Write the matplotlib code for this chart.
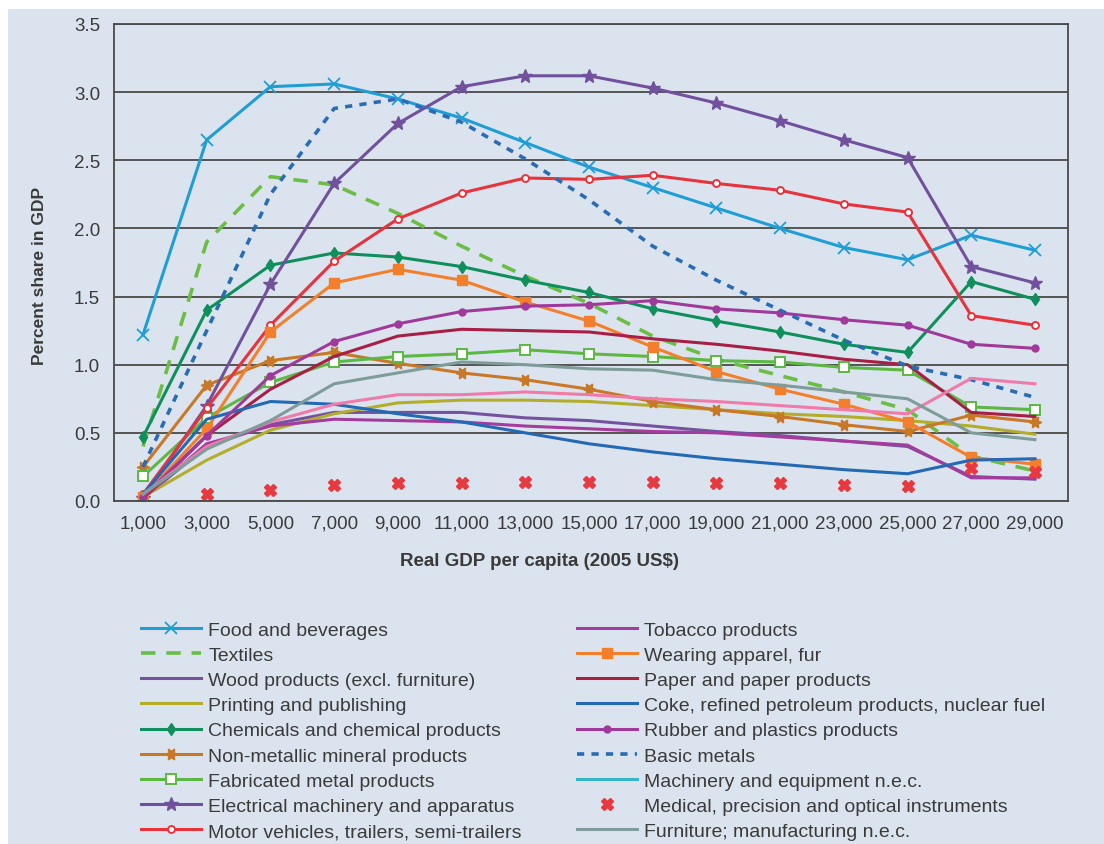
import numpy as np
import matplotlib
matplotlib.use('Agg')
import matplotlib.pyplot as plt
from matplotlib.lines import Line2D
from matplotlib.patches import Rectangle

# x categories: real GDP per capita (2005 US$)
gdp = [1000, 3000, 5000, 7000, 9000, 11000, 13000, 15000,
       17000, 19000, 21000, 23000, 25000, 27000, 29000]
gdp_labels = ['1,000', '3,000', '5,000', '7,000', '9,000', '11,000', '13,000',
              '15,000', '17,000', '19,000', '21,000', '23,000', '25,000',
              '27,000', '29,000']

# percent share in GDP
food = [1.22, 2.65, 3.04, 3.06, 2.95, 2.81, 2.63, 2.45, 2.30, 2.15, 2.00, 1.86, 1.77, 1.95, 1.84]
textiles = [0.40, 1.90, 2.38, 2.32, 2.11, 1.87, 1.65, 1.45, 1.21, 1.04, 0.92, 0.80, 0.67, 0.33, 0.22]
wood = [0.02, 0.40, 0.56, 0.65, 0.65, 0.65, 0.61, 0.59, 0.55, 0.51, 0.48, 0.44, 0.40, 0.18, 0.16]
printing = [0.03, 0.30, 0.52, 0.64, 0.72, 0.74, 0.74, 0.73, 0.70, 0.67, 0.64, 0.62, 0.59, 0.55, 0.49]
chemicals = [0.47, 1.40, 1.73, 1.82, 1.79, 1.72, 1.62, 1.53, 1.41, 1.32, 1.24, 1.15, 1.09, 1.61, 1.48]
nonmetal = [0.25, 0.85, 1.03, 1.09, 1.01, 0.94, 0.89, 0.82, 0.73, 0.67, 0.62, 0.56, 0.51, 0.63, 0.58]
fabricated = [0.18, 0.61, 0.87, 1.02, 1.06, 1.08, 1.11, 1.08, 1.06, 1.03, 1.02, 0.98, 0.96, 0.69, 0.67]
electrical = [0.02, 0.70, 1.59, 2.33, 2.77, 3.04, 3.12, 3.12, 3.03, 2.92, 2.79, 2.65, 2.52, 1.72, 1.60]
motor = [0.05, 0.68, 1.29, 1.76, 2.07, 2.26, 2.37, 2.36, 2.39, 2.33, 2.28, 2.18, 2.12, 1.36, 1.29]
tobacco = [0.02, 0.42, 0.55, 0.60, 0.59, 0.58, 0.55, 0.53, 0.51, 0.50, 0.47, 0.44, 0.41, 0.17, 0.17]
apparel = [0.03, 0.53, 1.24, 1.60, 1.70, 1.62, 1.46, 1.32, 1.13, 0.95, 0.82, 0.71, 0.58, 0.32, 0.27]
paper = [0.02, 0.48, 0.82, 1.06, 1.21, 1.26, 1.25, 1.24, 1.19, 1.15, 1.10, 1.04, 1.00, 0.65, 0.62]
coke = [0.05, 0.60, 0.73, 0.71, 0.64, 0.58, 0.50, 0.42, 0.36, 0.31, 0.27, 0.23, 0.20, 0.30, 0.31]
rubber = [0.03, 0.48, 0.92, 1.17, 1.30, 1.39, 1.43, 1.44, 1.47, 1.41, 1.38, 1.33, 1.29, 1.15, 1.12]
basic = [0.25, 1.25, 2.25, 2.88, 2.95, 2.78, 2.51, 2.21, 1.87, 1.62, 1.40, 1.18, 0.99, 0.89, 0.76]
machinery = [0.05, 0.40, 0.58, 0.71, 0.78, 0.78, 0.80, 0.78, 0.75, 0.73, 0.70, 0.67, 0.64, 0.90, 0.86]
medical = [np.nan, 0.05, 0.08, 0.12, 0.13, 0.13, 0.14, 0.14, 0.14, 0.13, 0.13, 0.12, 0.11, 0.24, 0.21]
furniture = [0.05, 0.38, 0.59, 0.86, 0.94, 1.02, 1.00, 0.97, 0.96, 0.89, 0.85, 0.80, 0.75, 0.50, 0.45]

BG = '#dbe4ee'
TXT = '#3a3a3a'
plt.rcParams['font.family'] = ['Liberation Sans', 'DejaVu Sans']

fig = plt.figure(figsize=(11.04, 8.45), dpi=100, facecolor='white')
fig.patches.append(Rectangle((8/1104, 0), 1, (845-10)/845, transform=fig.transFigure,
                             facecolor=BG, edgecolor='none', zorder=-10))
ax = fig.add_axes([114/1104, (845-502)/845, 954/1104, 477/845])
ax.set_facecolor(BG)

lw = 2.2
h = {}
h['food'], = ax.plot(gdp, food, color='#1f9ed6', lw=lw, marker='x', ms=9, mew=1.3,
                     label='Food and beverages')
h['textiles'], = ax.plot(gdp, textiles, color='#6cbd45', lw=2.6, ls=(0, (4, 3)),
                         label='Textiles')
h['wood'], = ax.plot(gdp, wood, color='#7452a0', lw=lw, label='Wood products (excl. furniture)')
h['printing'], = ax.plot(gdp, printing, color='#b3ad2b', lw=lw, label='Printing and publishing')
h['chemicals'], = ax.plot(gdp, chemicals, color='#0e8f5b', lw=lw, marker='d', ms=6,
                          label='Chemicals and chemical products')
h['nonmetal'], = ax.plot(gdp, nonmetal, color='#c97827', lw=lw, marker=(6, 1, 90), ms=9,
                         label='Non-metallic mineral products')
h['fabricated'], = ax.plot(gdp, fabricated, color='#5db843', lw=lw, marker='s', ms=7,
                           mfc='white', mew=1.4, label='Fabricated metal products')
h['electrical'], = ax.plot(gdp, electrical, color='#71519c', lw=lw, marker='*', ms=10,
                           label='Electrical machinery and apparatus')
h['motor'], = ax.plot(gdp, motor, color='#e8323c', lw=lw, marker='o', ms=5, mfc='white',
                      mew=1.4, label='Motor vehicles, trailers, semi-trailers')
h['tobacco'], = ax.plot(gdp, tobacco, color='#a43c9e', lw=lw, label='Tobacco products')
h['apparel'], = ax.plot(gdp, apparel, color='#f37f2c', lw=lw, marker='s', ms=7,
                        label='Wearing apparel, fur')
h['paper'], = ax.plot(gdp, paper, color='#a81e45', lw=lw, label='Paper and paper products')
h['coke'], = ax.plot(gdp, coke, color='#2469b3', lw=lw,
                     label='Coke, refined petroleum products, nuclear fuel')
h['rubber'], = ax.plot(gdp, rubber, color='#a03a9a', lw=lw, marker='o', ms=5,
                       label='Rubber and plastics products')
h['basic'], = ax.plot(gdp, basic, color='#2a6cb4', lw=2.6, ls=(0, (2, 2)), label='Basic metals')
ax.plot(gdp, machinery, color='#f07aaa', lw=lw)
# legend swatch for machinery is cyan in the original
h['machinery'] = Line2D([], [], color='#33b6cc', lw=lw, label='Machinery and equipment n.e.c.')
h['medical'], = ax.plot(gdp, medical, ls='none', color='#e8393f', marker='X', ms=9,
                        mec='#e8393f', label='Medical, precision and optical instruments')
h['furniture'], = ax.plot(gdp, furniture, color='#7e9c9a', lw=lw,
                          label='Furniture; manufacturing n.e.c.')

ax.set_xlim(90, 30036)
ax.set_ylim(0, 3.5)
ax.set_xticks(gdp)
ax.set_xticklabels(gdp_labels)
ax.set_yticks([0, 0.5, 1.0, 1.5, 2.0, 2.5, 3.0, 3.5])
ax.set_yticklabels(['0.0', '0.5', '1.0', '1.5', '2.0', '2.5', '3.0', '3.5'])
ax.tick_params(length=0, labelsize=13.5, labelcolor=TXT, pad=10)
ax.grid(axis='y', color='#4a4a4a', lw=1.3)
ax.set_axisbelow(True)
for s in ax.spines.values():
    s.set_color('#4a4a4a')
    s.set_linewidth(1.3)

fig.text(540/1104, 1 - 562/845, 'Real GDP per capita (2005 US$)', ha='center', va='center',
         fontsize=13.5, fontweight='bold', color=TXT)
fig.text(40/1104, 1 - 276/845, 'Percent share in GDP', ha='center', va='center',
         rotation=90, fontsize=12.5, fontweight='bold', color=TXT)

left = ['food', 'textiles', 'wood', 'printing', 'chemicals', 'nonmetal', 'fabricated',
        'electrical', 'motor']
right = ['tobacco', 'apparel', 'paper', 'coke', 'rubber', 'basic', 'machinery', 'medical',
         'furniture']
kw = dict(frameon=False, fontsize=14, handlelength=3.1, handletextpad=0.36,
          labelspacing=0.39, borderpad=0, borderaxespad=0, labelcolor=TXT)
leg1 = fig.legend([h[k] for k in left], [h[k].get_label() for k in left],
                  loc='upper left', bbox_to_anchor=(141/1104, 1 - 622/845), **kw)
leg2 = fig.legend([h[k] for k in right], [h[k].get_label() for k in right],
                  loc='upper left', bbox_to_anchor=(577/1104, 1 - 622/845), **kw)

fig.savefig('out.png', dpi=100, facecolor=fig.get_facecolor())
